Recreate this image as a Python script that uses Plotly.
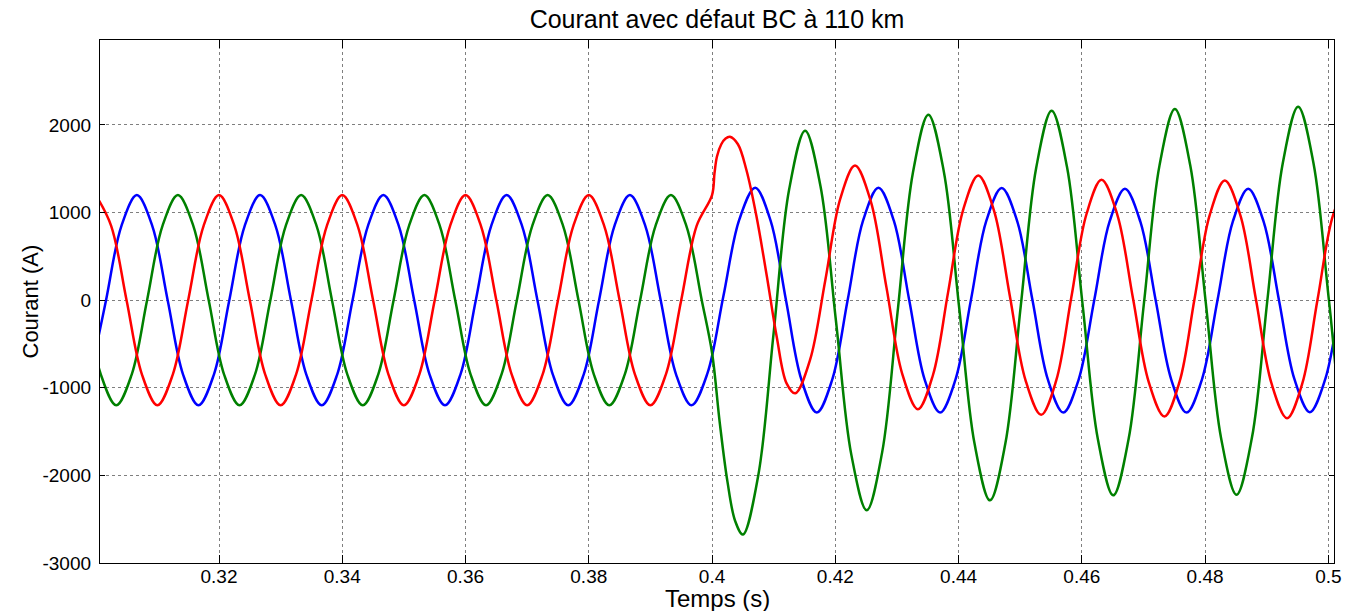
import plotly.graph_objects as go

# ---------------- data ----------------
# Phase shown in blue (time in s, current in A)
t_blue = [0.29917, 0.30167, 0.30417, 0.30667, 0.30917, 0.31167, 0.31417, 0.31667,
          0.31917, 0.32167, 0.32417, 0.32667, 0.32917, 0.33167, 0.33417, 0.33667,
          0.33917, 0.34167, 0.34417, 0.34667, 0.34917, 0.35167, 0.35417, 0.35667,
          0.35917, 0.36167, 0.36417, 0.36667, 0.36917, 0.37167, 0.37417, 0.37667,
          0.37917, 0.38167, 0.38417, 0.38667, 0.38917, 0.39167, 0.39417, 0.39667,
          0.39925, 0.40183, 0.40442,
          0.4070, 0.4095, 0.4120, 0.4145, 0.4170, 0.4195, 0.4220, 0.4245,
          0.4270, 0.4295, 0.4320, 0.4345, 0.4370, 0.4395, 0.4420, 0.4445,
          0.4470, 0.4495, 0.4520, 0.4545, 0.4570, 0.4595, 0.4620, 0.4645,
          0.4670, 0.4695, 0.4720, 0.4745, 0.4770, 0.4795, 0.4820, 0.4845,
          0.4870, 0.4895, 0.4920, 0.4945, 0.4970, 0.4995, 0.5020, 0.5045, 0.5070]
i_blue = [-849, 0, 849, 1200, 849, 0, -849, -1200,
          -849, 0, 849, 1200, 849, 0, -849, -1200,
          -849, 0, 849, 1200, 849, 0, -849, -1200,
          -849, 0, 849, 1200, 849, 0, -849, -1200,
          -849, 0, 849, 1200, 849, 0, -849, -1200,
          -836, 42, 919,
          1283, 907, 0, -907, -1283, -907, 0, 907,
          1283, 907, 0, -907, -1283, -906, 0, 905,
          1280, 905, -2, -908, -1283, -903, -6, 896,
          1272, 896, -6, -903, -1283, -903, -6, 896,
          1272, 897, -3, -902, -1278, -902, -2, 899, 1275]

# Phase shown in green
t_green = [0.29833, 0.30083, 0.30333, 0.30583, 0.30833, 0.31083, 0.31333, 0.31583,
           0.31833, 0.32083, 0.32333, 0.32583, 0.32833, 0.33083, 0.33333, 0.33583,
           0.33833, 0.34083, 0.34333, 0.34583, 0.34833, 0.35083, 0.35333, 0.35583,
           0.35833, 0.36083, 0.36333, 0.36583, 0.36833, 0.37083, 0.37333, 0.37583,
           0.37833, 0.38083, 0.38333, 0.38583, 0.38833, 0.39083, 0.39333, 0.39583,
           0.39833, 0.4000, 0.40125, 0.4025, 0.40375,
           0.4050, 0.4075, 0.4100, 0.4125, 0.4151, 0.4176, 0.4201, 0.4226,
           0.4251, 0.4276, 0.4301, 0.4326, 0.4351, 0.4376, 0.4401, 0.4426,
           0.4451, 0.4476, 0.4501, 0.4526, 0.4551, 0.4576, 0.4601, 0.4626,
           0.4651, 0.4676, 0.4701, 0.4726, 0.4751, 0.4776, 0.4801, 0.4826,
           0.4851, 0.4876, 0.4901, 0.4926, 0.4951, 0.4976, 0.5001, 0.5026, 0.5051]
i_green = [0, -849, -1200, -849, 0, 849, 1200, 849,
           0, -849, -1200, -849, 0, 849, 1200, 849,
           0, -849, -1200, -849, 0, 849, 1200, 849,
           0, -849, -1200, -849, 0, 849, 1200, 849,
           0, -849, -1200, -849, 0, 849, 1200, 849,
           0, -600, -1397, -2071, -2520,
           -2675, -2000, -370, 1260, 1935, 1300, -232, -1763,
           -2398, -1737, -140, 1457, 2118, 1473, -84, -1640,
           -2285, -1634, -61, 1512, 2163, 1520, -33, -1585,
           -2228, -1582, -23, 1536, 2182, 1537, -19, -1575,
           -2220, -1571, -6, 1560, 2209, 1561, -3, -1567, -2215]

# Phase shown in red
t_red = [0.3000, 0.3025, 0.3050, 0.3075, 0.3100, 0.3125, 0.3150, 0.3175,
         0.3200, 0.3225, 0.3250, 0.3275, 0.3300, 0.3325, 0.3350, 0.3375,
         0.3400, 0.3425, 0.3450, 0.3475, 0.3500, 0.3525, 0.3550, 0.3575,
         0.3600, 0.3625, 0.3650, 0.3675, 0.3700, 0.3725, 0.3750, 0.3775,
         0.3800, 0.3825, 0.3850, 0.3875, 0.3900, 0.3925, 0.3950, 0.3975,
         0.4000, 0.4004, 0.4008, 0.4015, 0.4022, 0.4029, 0.4042, 0.4056,
         0.4072, 0.4089, 0.4105, 0.4121, 0.4135, 0.4159, 0.4184, 0.4208,
         0.4232, 0.42575, 0.4283, 0.43085, 0.4334, 0.43585, 0.4383, 0.44075,
         0.4432, 0.44575, 0.4483, 0.45085, 0.4534, 0.45585, 0.4583, 0.46075,
         0.4632, 0.46575, 0.4683, 0.47085, 0.4734, 0.47585, 0.4783, 0.48075,
         0.4832, 0.48573, 0.48825, 0.49078, 0.4933, 0.49578, 0.49825, 0.50073, 0.5032]
i_red = [1200, 849, 0, -849, -1200, -849, 0, 849,
         1200, 849, 0, -849, -1200, -849, 0, 849,
         1200, 849, 0, -849, -1200, -849, 0, 849,
         1200, 849, 0, -849, -1200, -849, 0, 849,
         1200, 849, 0, -849, -1200, -849, 0, 849,
         1200, 1450, 1640, 1780, 1845, 1865, 1780, 1480,
         960, 270, -420, -950, -1063, -682, 237, 1156,
         1537, 1130, 146, -838, -1245, -854, 89, 1032,
         1423, 1023, 57, -909, -1309, -916, 33, 981,
         1374, 978, 23, -932, -1328, -933, 19, 971,
         1366, 969, 10, -950, -1347, -950, 7, 963, 1360]

x_tickvals = [0.32, 0.34, 0.36, 0.38, 0.40, 0.42, 0.44, 0.46, 0.48, 0.50]
x_ticktext = ["0.32", "0.34", "0.36", "0.38", "0.4", "0.42", "0.44", "0.46", "0.48", "0.5"]
y_tickvals = [-3000, -2000, -1000, 0, 1000, 2000]
y_ticktext = ["-3000", "-2000", "-1000", "0", "1000", "2000"]

title_text = "Courant avec défaut BC à 110 km"
x_title = "Temps (s)"
y_title = "Courant (A)"

# ---------------- figure ----------------
FONT = "Liberation Sans, Arial, Helvetica, sans-serif"
fig = go.Figure()
for t, v, col in [(t_blue, i_blue, "rgb(0,0,255)"),
                  (t_green, i_green, "rgb(0,128,0)"),
                  (t_red, i_red, "rgb(255,0,0)")]:
    fig.add_trace(go.Scatter(x=t, y=v, mode="lines",
                             line=dict(color=col, width=2.5, shape="spline", smoothing=1),
                             showlegend=False, hoverinfo="skip"))

axis_common = dict(showline=True, linecolor="black", linewidth=1.3, mirror="ticks",
                   ticks="inside", tickcolor="black", showgrid=True,
                   gridcolor="rgba(0,0,0,0.5)", gridwidth=1, griddash="dot",
                   zeroline=False, tickfont=dict(family=FONT, size=19, color="black"))

fig.update_xaxes(range=[0.30069, 0.50092], tickvals=x_tickvals, ticktext=x_ticktext,
                 ticklen=8, ticklabelstandoff=-4, **axis_common)
fig.update_yaxes(range=[-3000, 2970], tickvals=y_tickvals, ticktext=y_ticktext,
                 ticklen=5, ticklabelstandoff=4, **axis_common)

fig.update_layout(
    width=1359, height=611,
    margin=dict(l=100, r=25, t=40, b=48),
    paper_bgcolor="white", plot_bgcolor="white",
    title=dict(text=title_text, x=0.5, xref="paper", y=1 - 19 / 611, yref="container",
               xanchor="center", yanchor="middle",
               font=dict(family=FONT, size=25, color="black")),
    annotations=[
        dict(text=x_title, xref="paper", yref="paper", x=0.5, y=0, xanchor="center",
             yanchor="middle", yshift=-35, showarrow=False,
             font=dict(family=FONT, size=24, color="black")),
        dict(text=y_title, xref="paper", yref="paper", x=0, y=0.5, xanchor="center",
             yanchor="middle", xshift=-70, textangle=-90, showarrow=False,
             font=dict(family=FONT, size=22, color="black")),
    ],
)

fig.write_html("out.html", config={"displayModeBar": False},
               post_script="document.body.style.margin='0';document.body.style.overflow='hidden';")
